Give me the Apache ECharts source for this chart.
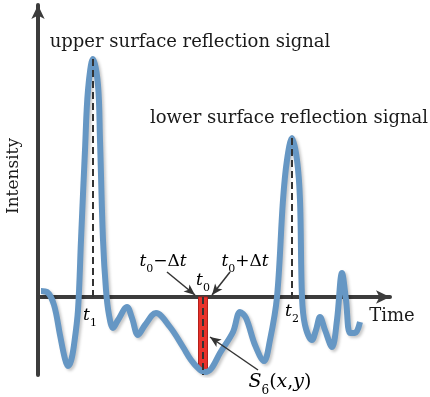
<!DOCTYPE html>
<html>
<head>
<meta charset="utf-8">
<script src="https://cdn.jsdelivr.net/npm/echarts@6/dist/echarts.min.js"></script>
<style>
  html, body { margin: 0; padding: 0; background: #fff; }
  #chart { width: 430px; height: 397px; }
</style>
</head>
<body>
<div id="chart"></div>
<script>
const curveT = [3, 9, 16, 22, 27, 30, 33, 36, 40, 43, 47, 50, 55, 60, 62, 65, 68, 71, 75, 80, 89, 94,
  100, 107, 118, 132, 145, 153, 161, 167, 173, 182, 195, 202, 208, 217, 226, 232, 239, 245, 249,
  254, 259, 262, 264, 267, 274, 278, 282, 287, 294, 299, 304, 308, 312, 317, 322];
const curveI = [6, 5, -8, -38, -62, -69, -64, -48, -13, 57, 147, 207, 238, 212, 157, 57, 7, -18, -31, -23, -10, -21,
  -38, -28, -16, -30, -50, -63, -72, -75, -72, -56, -35, -15, -21, -48, -64, -43, 0, 97, 137,
  159, 137, 97, 0, -28, -43, -33, -20, -33, -50, -23, 24, -3, -36, -36, -25];

// t1, t0, t2 positions and where the dashed guides end
const t1 = 55, t1Peak = 238;
const t2 = 254, t2Peak = 159;
const t0 = 165, t0Low = -78;
const dt = 4.5, windowLow = -73;

const FONT = '"DejaVu Serif", "Liberation Serif", serif';
const INK = '#1a1a1a';

const chart = echarts.init(document.getElementById('chart'));

const tRich = {
  i: { fontFamily: FONT, fontStyle: 'italic', fontSize: 17, lineHeight: 20, verticalAlign: 'top', color: INK },
  n: { fontFamily: FONT, fontSize: 17, lineHeight: 20, verticalAlign: 'top', color: INK },
  s: { fontFamily: FONT, fontSize: 11, lineHeight: 12, padding: [11, 0, 0, 0], verticalAlign: 'top', color: INK }
};

function txt(x, y, text, size, rot) {
  return {
    type: 'text', x: x, y: y, rotation: rot || 0,
    style: { text: text, fontFamily: FONT, fontSize: size, fill: INK, align: 'center', verticalAlign: 'middle' }
  };
}

const arrowLine = { color: '#333', width: 1.5, type: 'solid' };

chart.setOption({
  animation: false,
  grid: { left: 38, top: 5, width: 352, height: 370 },
  xAxis: {
    type: 'value', min: 0, max: 352,
    axisLine: { onZero: true, symbol: ['none', 'arrow'], symbolSize: [10, 14], lineStyle: { color: '#3c3c3c', width: 4 } },
    axisTick: { show: false }, axisLabel: { show: false }, splitLine: { show: false }
  },
  yAxis: {
    type: 'value', min: -78, max: 292,
    axisLine: { show: true, symbol: ['none', 'arrow'], symbolSize: [10, 14], lineStyle: { color: '#3c3c3c', width: 4 } },
    axisTick: { show: false }, axisLabel: { show: false }, splitLine: { show: false }
  },
  series: [
    {
      type: 'line',
      data: curveT.map((t, k) => [t, curveI[k]]),
      smooth: 0.35,
      showSymbol: false,
      z: 3,
      lineStyle: {
        color: '#6697c4', width: 6,
        shadowColor: 'rgba(0,0,0,0.22)', shadowBlur: 3, shadowOffsetX: 2, shadowOffsetY: 2
      },
      markArea: {
        silent: true,
        itemStyle: { color: '#e8322b', borderColor: '#b51f1a', borderWidth: 1 },
        data: [[{ coord: [t0 - dt, 0] }, { coord: [t0 + dt, windowLow] }]]
      },
      markLine: {
        silent: true, symbol: 'none', label: { show: false },
        lineStyle: { color: '#333', width: 2, type: [7, 4] },
        data: [
          [{ coord: [t1, t1Peak] }, { coord: [t1, -3] }],
          [{ coord: [t2, t2Peak] }, { coord: [t2, -3] }],
          [{ coord: [t0, 0] }, { coord: [t0, t0Low] }]
        ]
      }
    },
    {
      // annotation arrows
      type: 'line', data: [], z: 5,
      markLine: {
        silent: true, symbol: ['none', 'arrow'], symbolSize: [7, 11], label: { show: false },
        lineStyle: arrowLine,
        data: [
          [{ coord: [129, 25] }, { coord: [157, 2] }],
          [{ coord: [192, 25] }, { coord: [174, 2] }],
          [{ coord: [220, -73] }, { coord: [172, -40] }]
        ]
      }
    }
  ],
  graphic: [
    txt(190, 42, 'upper surface reflection signal', 18),
    txt(289, 118, 'lower surface reflection signal', 18),
    txt(14, 176, 'Intensity', 17, Math.PI / 2),
    txt(392, 316, 'Time', 18),
    { type: 'text', x: 163, y: 263, style: { text: '{i|t}{s|0}{n|−Δ}{i|t}', rich: tRich, align: 'center', verticalAlign: 'middle' } },
    { type: 'text', x: 245, y: 263, style: { text: '{i|t}{s|0}{n|+Δ}{i|t}', rich: tRich, align: 'center', verticalAlign: 'middle' } },
    { type: 'text', x: 203, y: 282, style: { text: '{i|t}{s|0}', rich: tRich, align: 'center', verticalAlign: 'middle' } },
    { type: 'text', x: 90, y: 317, style: { text: '{i|t}{s|1}', rich: tRich, align: 'center', verticalAlign: 'middle' } },
    { type: 'text', x: 292, y: 313, style: { text: '{i|t}{s|2}', rich: tRich, align: 'center', verticalAlign: 'middle' } },
    {
      type: 'text', x: 280, y: 384,
      style: {
        text: '{i|S}{s|6}{n|(}{i|x}{n|,}{i|y}{n|)}', align: 'center', verticalAlign: 'middle',
        rich: {
          i: { fontFamily: FONT, fontStyle: 'italic', fontSize: 19, lineHeight: 22, verticalAlign: 'top', color: INK },
          n: { fontFamily: FONT, fontSize: 19, lineHeight: 22, verticalAlign: 'top', color: INK },
          s: { fontFamily: FONT, fontSize: 12, lineHeight: 13, padding: [12, 0, 0, 0], verticalAlign: 'top', color: INK }
        }
      }
    }
  ]
});
</script>
</body>
</html>
